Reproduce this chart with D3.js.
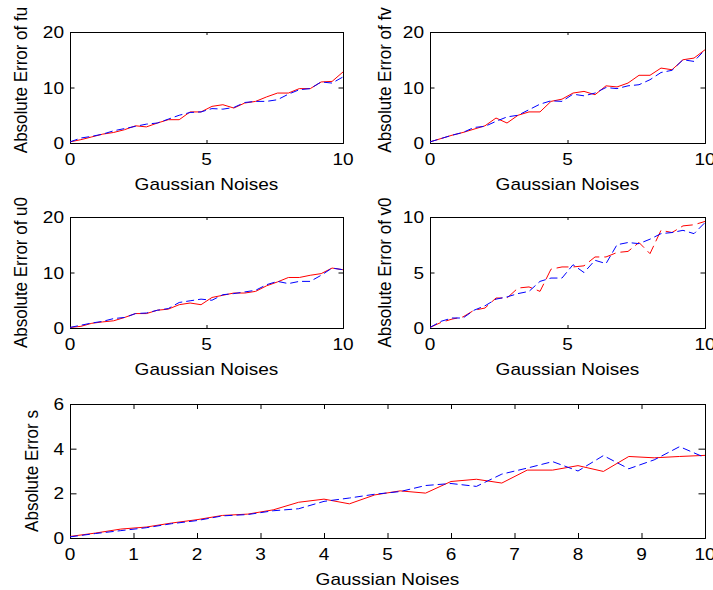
<!DOCTYPE html>
<html>
<head>
<meta charset="utf-8">
<script src="https://cdnjs.cloudflare.com/ajax/libs/d3/7.8.5/d3.min.js"></script>
<style>
    body { margin: 0; background: #fff; }
    text { font-family: "Liberation Sans", Arial, sans-serif; font-size: 17px; fill: #000; }
</style>
</head>
<body>
<svg id="chart" width="713" height="590"></svg>
<script>
'use strict';

// noise levels shared by every panel
let noise = [0, 0.4, 0.8, 1.2, 1.6, 2.0, 2.4, 2.8, 3.2, 3.6, 4.0, 4.4, 4.8,
    5.2, 5.6, 6.0, 6.4, 6.8, 7.2, 7.6, 8.0, 8.4, 8.8, 9.2, 9.6, 10];

let fuRed = [0.2, 0.6, 1.1, 1.6, 1.9, 2.4, 3.1, 2.9, 3.6, 4.2, 4.2, 5.6, 5.6,
    6.6, 6.9, 6.3, 7.2, 7.5, 8.3, 9.0, 9.0, 9.8, 9.8, 11.0, 11.1, 12.8];
let fuBlue = [0.2, 0.9, 1.2, 1.6, 2.2, 2.6, 3.0, 3.4, 3.6, 4.3, 5.0, 5.5, 5.6,
    6.2, 6.1, 6.4, 7.3, 7.5, 7.5, 7.8, 8.8, 9.6, 9.8, 11.0, 10.8, 11.9];

let fvRed = [0.2, 0.8, 1.4, 1.9, 2.5, 3.1, 4.5, 3.6, 5.0, 5.6, 5.6, 7.5, 7.9,
    9.0, 9.3, 8.7, 10.3, 10.1, 10.8, 12.2, 12.2, 13.5, 13.2, 15.0, 15.3, 16.8];
let fvBlue = [0.2, 0.8, 1.4, 1.9, 2.8, 3.0, 3.9, 4.7, 5.0, 6.0, 7.0, 7.6, 7.5,
    8.8, 8.5, 9.0, 10.0, 9.8, 10.3, 10.5, 11.4, 12.7, 13.1, 15.0, 14.7, 16.8];

let u0Red = [0.1, 0.3, 0.85, 1.1, 1.3, 1.9, 2.6, 2.6, 3.2, 3.4, 4.2, 4.5, 4.2,
    5.5, 5.9, 6.3, 6.3, 6.6, 7.6, 8.3, 9.1, 9.1, 9.5, 9.8, 10.8, 10.5];
let u0Blue = [0.1, 0.5, 0.9, 1.2, 1.7, 1.9, 2.6, 2.7, 3.2, 3.5, 4.6, 4.9, 5.2,
    5.0, 6.0, 6.2, 6.5, 6.8, 7.8, 8.4, 8.0, 8.4, 8.4, 9.5, 10.8, 10.5];

let v0Red = [0.05, 0.5, 0.8, 1.0, 1.6, 1.8, 2.7, 2.7, 3.6, 3.7, 3.3, 5.3, 5.5,
    5.5, 5.6, 6.4, 6.4, 6.8, 6.9, 7.7, 6.7, 8.8, 8.6, 9.2, 9.3, 9.6];
let v0Blue = [0.05, 0.6, 0.9, 0.9, 1.6, 2.0, 2.6, 2.8, 3.1, 3.3, 4.2, 4.5, 4.5,
    5.7, 5.0, 6.1, 5.8, 7.5, 7.7, 7.6, 8.0, 8.5, 8.6, 8.8, 8.5, 9.5];

let sRed = [0.07, 0.22, 0.40, 0.49, 0.67, 0.82, 1.01, 1.07, 1.26, 1.6, 1.74, 1.53, 1.93,
    2.11, 2.01, 2.53, 2.63, 2.46, 3.04, 3.04, 3.24, 2.98, 3.65, 3.59, 3.65, 3.7];
let sBlue = [0.05, 0.2, 0.33, 0.46, 0.64, 0.78, 0.99, 1.05, 1.22, 1.31, 1.64, 1.79, 1.96,
    2.08, 2.35, 2.44, 2.31, 2.86, 3.13, 3.42, 3.0, 3.69, 3.1, 3.5, 4.09, 3.6];

let smallXTicks = [0, 5, 10];
let bigXTicks = [0, 1, 2, 3, 4, 5, 6, 7, 8, 9, 10];

let panels = [
    { box: [70, 343, 32, 143], yMax: 20, yTicks: [0, 10, 20], xTicks: smallXTicks,
        red: fuRed, blue: fuBlue, ylabel: 'Absolute Error of fu', labelX: 20, labelY: 80, tx: 3, ty: 4.5 },
    { box: [430, 705, 32, 143], yMax: 20, yTicks: [0, 10, 20], xTicks: smallXTicks,
        red: fvRed, blue: fvBlue, ylabel: 'Absolute Error of fv', labelX: 384, labelY: 80, tx: 3, ty: 4.5 },
    { box: [70, 343, 217, 328], yMax: 20, yTicks: [0, 10, 20], xTicks: smallXTicks,
        red: u0Red, blue: u0Blue, ylabel: 'Absolute Error of u0', labelX: 20, tx: 3, ty: 4.5 },
    { box: [430, 705, 217, 328], yMax: 10, yTicks: [0, 5, 10], xTicks: smallXTicks,
        red: v0Red, blue: v0Blue, ylabel: 'Absolute Error of v0', labelX: 384, tx: 3, ty: 4.5, redDash: '12,5' },
    { box: [70, 705, 404, 538], yMax: 6, yTicks: [0, 2, 4, 6], xTicks: bigXTicks,
        red: sRed, blue: sBlue, ylabel: 'Absolute Error s', labelX: 31, tx: 5, ty: 6.5 }
];

// the original figure is stretched a little horizontally
let stretch = 1.12;

let svg = d3.select('#chart');

panels.forEach(draw);

function draw(p) {
    let [left, right, top, bottom] = p.box;
    let x = d3.scaleLinear().domain([0, 10]).range([left, right]);
    let y = d3.scaleLinear().domain([0, p.yMax]).range([bottom, top]);
    let g = svg.append('g');

    // inward ticks on all four sides
    g.append('g').attr('transform', 'translate(0,' + bottom + ')')
        .call(d3.axisBottom(x).tickValues(p.xTicks).tickSize(-p.tx).tickFormat(''));
    g.append('g').attr('transform', 'translate(0,' + top + ')')
        .call(d3.axisTop(x).tickValues(p.xTicks).tickSize(-p.tx).tickFormat(''));
    g.append('g').attr('transform', 'translate(' + left + ',0)')
        .call(d3.axisLeft(y).tickValues(p.yTicks).tickSize(-p.ty).tickFormat(''));
    g.append('g').attr('transform', 'translate(' + right + ',0)')
        .call(d3.axisRight(y).tickValues(p.yTicks).tickSize(-p.ty).tickFormat(''));
    g.selectAll('.domain').attr('stroke', '#000').attr('stroke-width', 1);
    g.selectAll('.tick line').attr('stroke', '#000');

    let line = d3.line().x(function (d, i) { return x(noise[i]); }).y(function (d) { return y(d); });

    g.append('path').datum(p.red)
        .attr('d', line).attr('fill', 'none').attr('stroke', '#ff0000').attr('stroke-width', 1)
        .attr('stroke-dasharray', p.redDash || null);
    g.append('path').datum(p.blue)
        .attr('d', line).attr('fill', 'none').attr('stroke', '#0000ff').attr('stroke-width', 1)
        .attr('stroke-dasharray', '8,4');

    // tick labels
    g.selectAll('.xl').data(p.xTicks).enter().append('text')
        .attr('text-anchor', 'middle')
        .attr('transform', function (d) { return 'translate(' + x(d) + ',' + (bottom + 22) + ') scale(' + stretch + ',1)'; })
        .text(function (d) { return d; });
    g.selectAll('.yl').data(p.yTicks).enter().append('text')
        .attr('text-anchor', 'end')
        .attr('transform', function (d) { return 'translate(' + (left - 6) + ',' + (y(d) + 6) + ') scale(' + stretch + ',1)'; })
        .text(function (d) { return d; });

    g.append('text')
        .attr('text-anchor', 'middle')
        .attr('transform', 'translate(' + ((left + right) / 2) + ',' + (bottom + 47) + ') scale(' + stretch + ',1)')
        .text('Gaussian Noises');
    let ly = p.labelY || (top + bottom) / 2;
    g.append('text')
        .attr('text-anchor', 'middle')
        .attr('transform', 'translate(' + p.labelX + ',' + ly + ') scale(' + stretch + ',1) rotate(-90)')
        .attr('dy', '0.35em')
        .text(p.ylabel);
}
</script>
</body>
</html>
